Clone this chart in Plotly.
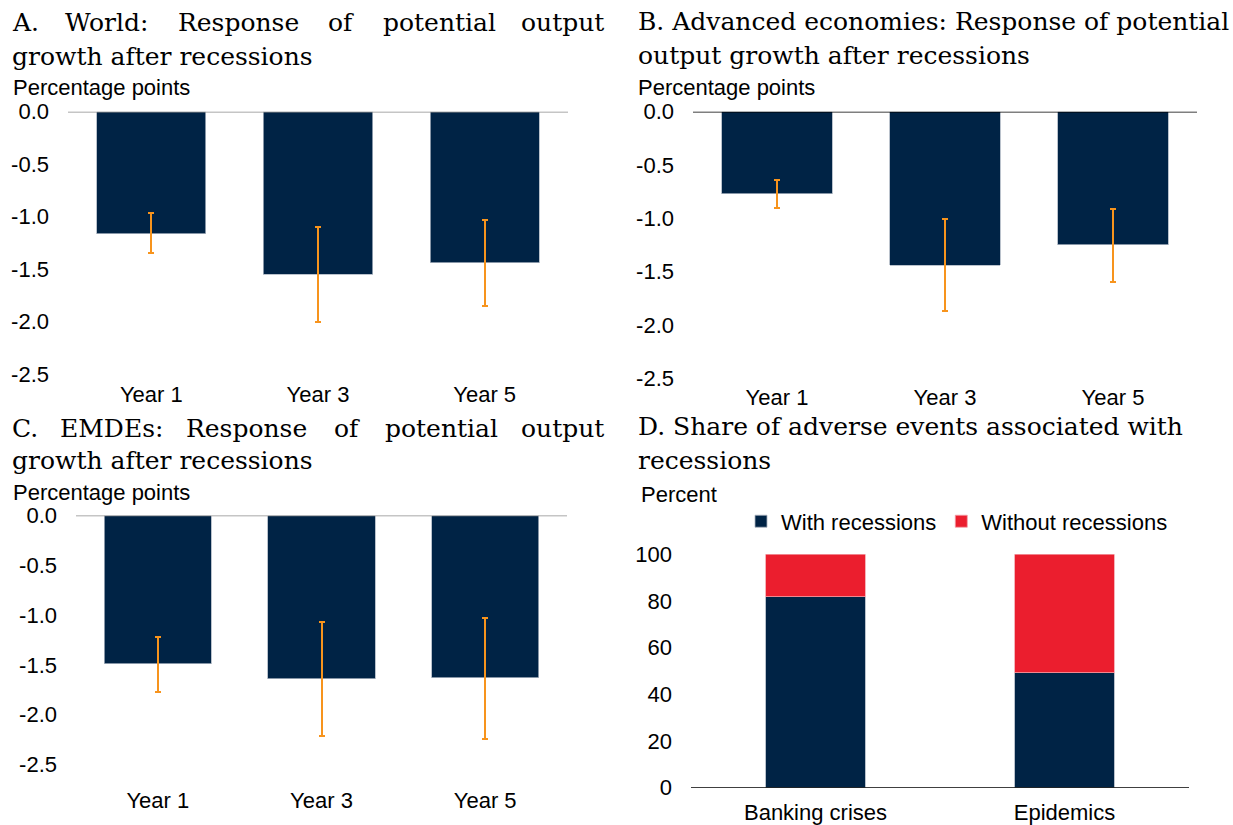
import plotly.graph_objects as go

# ---------------- data ----------------
years = ["Year 1", "Year 3", "Year 5"]

world_vals = [-1.16, -1.55, -1.44]
world_lo = [-1.35, -2.00, -1.85]
world_hi = [-0.96, -1.10, -1.03]

adv_vals = [-0.77, -1.44, -1.25]
adv_lo = [-0.905, -1.87, -1.595]
adv_hi = [-0.64, -1.01, -0.915]

emde_vals = [-1.49, -1.64, -1.63]
emde_lo = [-1.77, -2.21, -2.24]
emde_hi = [-1.22, -1.07, -1.03]

events = ["Banking crises", "Epidemics"]
with_rec = [81.8, 49.3]
without_rec = [18.2, 50.7]

pp_ticks = [0.0, -0.5, -1.0, -1.5, -2.0, -2.5]
pp_tick_text = ["0.0", "-0.5", "-1.0", "-1.5", "-2.0", "-2.5"]
pct_ticks = [0, 20, 40, 60, 80, 100]

# ---------------- style ----------------
W, H = 1233, 825
NAVY = "#002345"
RED = "#EB1E2E"
ORANGE = "#F7941D"
SANS = "Liberation Sans, Arial, sans-serif"
SERIF = "DejaVu Serif, serif"
TFS = 25  # title font size
AFS = 22  # axis font size
BAR_LINE = dict(color="#A9B3BF", width=0.8)


def px(x):
    return x / W


def py(y):
    return 1 - y / H


fig = go.Figure()


def add_panel(vals, lo, hi, xa, ya):
    fig.add_trace(go.Bar(
        x=years, y=vals, width=0.655,
        marker=dict(color=NAVY, line=BAR_LINE),
        error_y=dict(type="data", symmetric=False,
                     array=[h - v for h, v in zip(hi, vals)],
                     arrayminus=[v - l for v, l in zip(vals, lo)],
                     color=ORANGE, thickness=2, width=3),
        xaxis=xa, yaxis=ya, showlegend=False, hoverinfo="skip"))


add_panel(world_vals, world_lo, world_hi, "x", "y")
add_panel(adv_vals, adv_lo, adv_hi, "x2", "y2")
add_panel(emde_vals, emde_lo, emde_hi, "x3", "y3")

fig.add_trace(go.Bar(x=events, y=with_rec, name="With recessions", width=0.4,
                     marker=dict(color=NAVY, line=BAR_LINE),
                     xaxis="x4", yaxis="y4", hoverinfo="skip"))
fig.add_trace(go.Bar(x=events, y=without_rec, name="Without recessions", width=0.4,
                     marker=dict(color=RED, line=dict(color="#F3A0A8", width=0.8)),
                     xaxis="x4", yaxis="y4", hoverinfo="skip"))

# panel geometry in pixels: (x0, x1, ytop, ybottom, x label standoff)
geo = {
    1: (68, 568, 103, 374, 5),
    2: (693, 1197, 103, 378, 4),
    3: (76, 567, 520, 777, 20),
    4: (691, 1189, 560, 801, 9),
}

layout = dict(
    width=W, height=H, margin=dict(l=0, r=0, t=0, b=0),
    paper_bgcolor="white", plot_bgcolor="white",
    barmode="stack",
    font=dict(family=SANS, size=AFS, color="black"),
    showlegend=True,
    legend=dict(orientation="h", x=px(741), xanchor="left", y=py(526), yanchor="middle",
                font=dict(family=SANS, size=AFS, color="black"), traceorder="normal",
                bgcolor="rgba(0,0,0,0)"),
)

for i, (x0, x1, yt, yb, xso) in geo.items():
    sfx = "" if i == 1 else str(i)
    layout["xaxis" + sfx] = dict(
        domain=[px(x0), px(x1)], anchor="y" + sfx, showline=False, showgrid=False,
        zeroline=False, ticks="", ticklabelstandoff=xso,
        tickfont=dict(family=SANS, size=AFS, color="black"), fixedrange=True)
    if i < 4:
        layout["yaxis" + sfx] = dict(
            domain=[py(yb), py(yt)], anchor="x" + sfx, range=[-2.5, 0],
            tickvals=pp_ticks, ticktext=pp_tick_text, showline=False, showgrid=False,
            zeroline=False, ticks="", ticklabelstandoff=18,
            tickfont=dict(family=SANS, size=AFS, color="black"), fixedrange=True)
    else:
        layout["yaxis" + sfx] = dict(
            domain=[py(yb), py(yt)], anchor="x" + sfx, range=[0, 100],
            tickvals=pct_ticks, showline=False, showgrid=False,
            zeroline=False, ticks="", ticklabelstandoff=18,
            tickfont=dict(family=SANS, size=AFS, color="black"), fixedrange=True)

fig.update_layout(**layout)

# zero / baseline lines
for xa, ya, col in [("x", "y", "#8C8C8C"), ("x2", "y2", "#000000"),
                    ("x3", "y3", "#8C8C8C"), ("x4", "y4", "#000000")]:
    fig.add_shape(type="line", xref=xa + " domain", yref=ya, x0=0, x1=1, y0=0, y1=0,
                  line=dict(color=col, width=1.3), layer="above")

# ---------------- titles ----------------
annotations = []


def txt(s, x, y, anchor="left", font=SERIF, size=TFS):
    annotations.append(dict(text=s, x=px(x), y=py(y), xref="paper", yref="paper",
                            xanchor=anchor, yanchor="middle", showarrow=False,
                            font=dict(family=font, size=size, color="black")))


def justified(words, centers, y):
    txt(words[0], 10, y, "left")
    for w, c in zip(words[1:-1], centers):
        txt(w, c, y, "center")
    txt(words[-1], 606, y, "right")


justified(["A.", "World:", "Response", "of", "potential", "output"],
          [106, 238, 341, 439], 11)
txt("growth after recessions", 10, 46)

txt("B. Advanced economies: Response of potential", 636, 10)
txt("output growth after recessions", 636, 45)

justified(["C.", "EMDEs:", "Response", "of", "potential", "output"],
          [111, 247, 347, 441], 430)
txt("growth after recessions", 10, 463)

txt("D. Share of adverse events associated with", 636, 428)
txt("recessions", 636, 463)

# axis unit labels
txt("Percentage points", 11, 78, font=SANS, size=AFS)
txt("Percentage points", 636, 78, font=SANS, size=AFS)
txt("Percentage points", 11, 496, font=SANS, size=AFS)
txt("Percent", 639, 498, font=SANS, size=AFS)

fig.update_layout(annotations=annotations)

fig.write_html("out.html",
               config={"displayModeBar": False},
               post_script="document.body.style.margin='0';document.body.style.overflow='hidden';")
